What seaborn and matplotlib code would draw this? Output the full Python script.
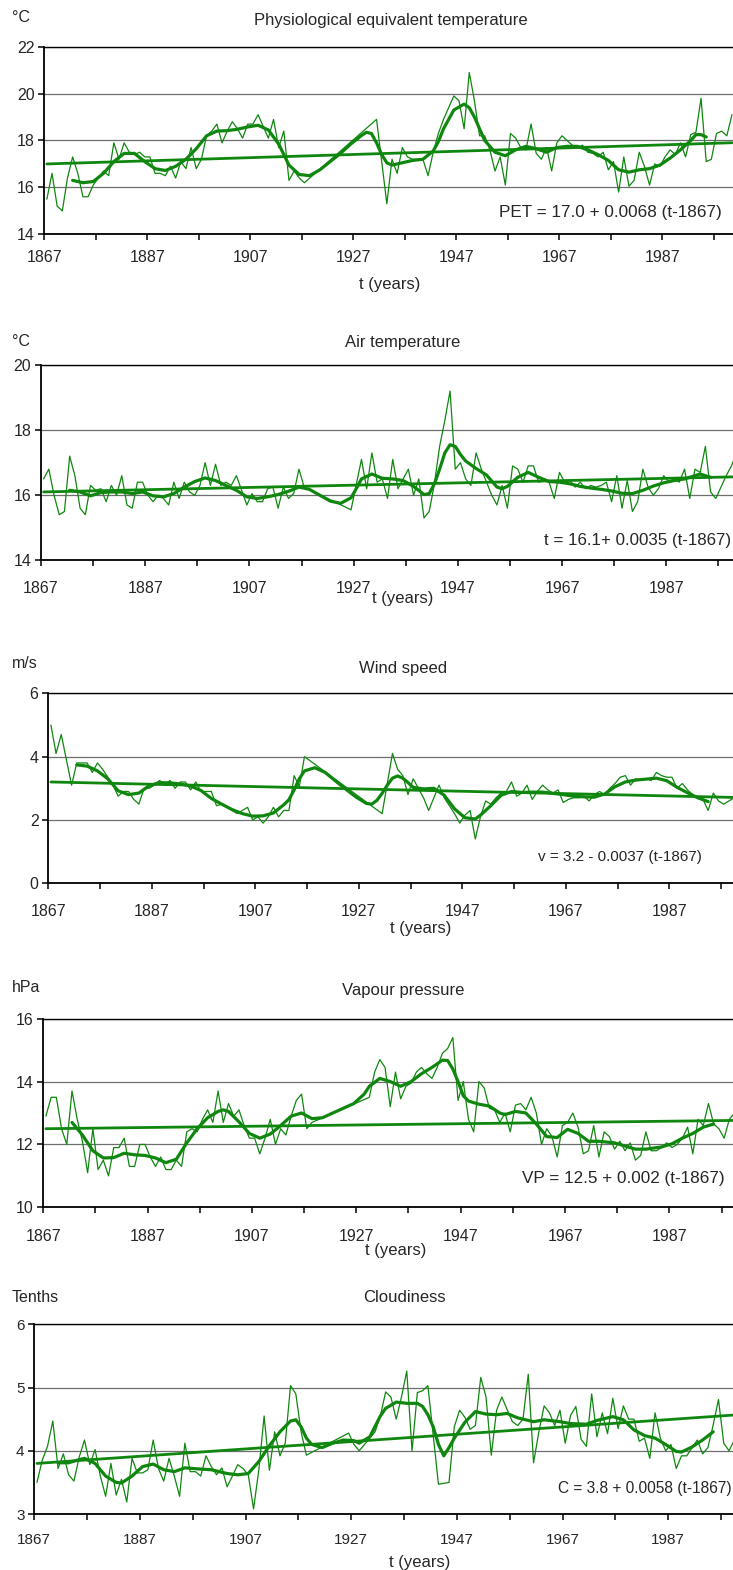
import numpy as np
import pandas as pd
import seaborn as sns
import matplotlib.pyplot as plt

# ---- annual values, one per year from 1867 (None = no data, line is joined across) ----
first_year = 1867

pet_vals = [15.5, 16.6, 15.2, 15.0, 16.4, 17.3, 16.6, 15.6, 15.6, 16.1,
            16.4, 16.7, 16.5, 17.9, 17.2, 17.9, 17.5, 17.4, 17.5, 17.3,
            17.3, 16.6, 16.6, 16.5, 16.9, 16.4, 17.1, 16.8, 17.7, 16.8,
            17.2, 18.2, 18.4, 18.7, 17.9, 18.4, 18.8, 18.5, 18.1, 18.7,
            18.7, 19.1, 18.6, 18.1, 18.9, 17.7, 18.4, 16.3, 16.7, 16.4,
            16.2, None, None, None, None, None, None, None, None, None,
            None, None, None, None, 18.9, None, 15.3, 17.2, 16.6, 17.7,
            17.3, 17.2, 17.2, 17.2, 16.5, 17.5, 18.3, 18.9, 19.4, 19.9,
            19.7, 18.5, 20.9, 19.7, 18.2, 18.2, 17.6, 16.7, 17.3, 16.1,
            18.3, 18.1, 17.7, 17.6, 18.7, 17.45, 17.2, 17.7, 16.7, 17.9,
            18.2, 18.0, 17.8, 17.7, 17.8, 17.5, 17.45, 17.3, 17.5, 16.75,
            17.1, 15.8, 17.3, 16.05, 16.3, 17.5, 16.9, 16.1, 17.0, 16.9,
            17.3, 17.6, 17.4, 17.9, 17.3, 18.25, 18.35, 19.8, 17.1, 17.2,
            18.3, 18.4, 18.2, 19.1]

air_vals = [16.5, 16.8, 16.0, 15.4, 15.5, 17.2, 16.6, 15.6, 15.4, 16.3,
            16.15, 16.2, 15.8, 16.3, 16.0, 16.6, 15.7, 15.6, 16.4, 16.4,
            16.0, 15.8, 16.0, 15.9, 15.7, 16.4, 15.9, 16.4, 16.1, 16.0,
            16.3, 17.0, 16.3, 16.95, 16.3, 16.4, 16.3, 16.6, 16.15, 15.7,
            16.05, 15.8, 15.8, 16.2, 16.25, 15.6, 16.25, 15.9, 16.05, 16.8,
            16.25, None, None, None, None, None, None, None, None, 15.55,
            None, 17.1, 16.2, 17.3, 16.4, 16.5, 15.9, 17.1, 16.2, 16.5,
            16.8, 16.0, 16.5, 15.3, 15.5, 16.35, 17.5, 18.3, 19.2, 16.8,
            17.0, 16.5, 16.3, 17.3, 16.8, 16.4, 16.0, 15.7, 16.3, 15.6,
            16.9, 16.8, 16.4, 16.9, 16.9, 16.4, 16.45, 16.4, 15.9, 16.7,
            16.4, 16.45, 16.25, 16.4, 16.2, 16.3, 16.25, 16.3, 16.4, 15.8,
            16.6, 15.6, 16.45, 15.5, 15.8, 16.8, 16.25, 16.0, 16.2, 16.6,
            16.4, 16.5, 16.4, 16.8, 15.9, 16.8, 16.7, 17.5, 16.1, 15.9,
            16.25, 16.6, 16.9, 17.3]

wind_vals = [5.0, 4.1, 4.7, 3.9, 3.1, 3.8, 3.8, 3.8, 3.5, 3.8,
             3.6, 3.35, 3.1, 2.75, 2.9, 2.9, 2.65, 2.5, 3.0, 3.0,
             3.1, 3.25, 3.1, 3.25, 3.0, 3.2, 3.2, 2.95, 3.2, 2.9,
             2.9, 2.9, 2.45, 2.5, 2.4, 2.3, 2.2, 2.3, 2.4, 2.0,
             2.1, 1.9, 2.1, 2.4, 2.1, 2.3, 2.3, 3.4, 3.05, 4.0,
             None, None, None, None, None, None, None, None, None, None,
             None, None, None, None, 2.2, None, 4.1, 3.6, 3.4, 2.8,
             3.3, 3.0, 2.7, 2.3, 2.7, 3.1, 2.7, 2.45, 2.2, 1.9,
             2.15, 2.3, 1.4, 2.1, 2.6, 2.5, 2.7, 2.85, 2.9, 3.2,
             2.75, 2.85, 3.1, 2.65, 2.9, 3.1, 2.95, 2.85, 2.95, 2.55,
             2.65, 2.7, 2.7, 2.75, 2.6, 2.8, 2.9, 2.8, 3.0, 3.15,
             3.35, 3.4, 3.1, 3.3, 3.25, 3.3, 3.25, 3.5, 3.4, 3.35,
             3.35, 3.0, 3.15, 2.95, 2.8, 2.7, 2.65, 2.3, 2.85, 2.6,
             2.5, 2.6, 2.7, 2.6]

vp_vals = [12.9, 13.5, 13.5, 12.5, 12.0, 13.7, 12.8, 12.1, 11.1, 12.5,
           11.2, 11.5, 11.0, 11.9, 11.9, 12.2, 11.3, 11.3, 12.0, 12.0,
           11.6, 11.3, 11.6, 11.2, 11.2, 11.5, 11.3, 12.4, 12.5, 12.4,
           12.8, 13.1, 12.7, 13.7, 12.7, 13.3, 12.9, 13.1, 12.6, 12.2,
           12.2, 11.7, 12.2, 12.8, 12.0, 12.5, 12.3, 12.9, 13.4, 13.6,
           12.5, 12.7, None, None, None, None, None, None, None, None,
           None, None, 13.5, 14.3, 14.7, 14.45, 13.2, 14.3, 13.45, 13.85,
           13.95, 14.3, 14.45, 14.25, 14.1, 14.45, 14.9, 15.05, 15.4, 13.4,
           14.0, 12.8, 12.4, 14.0, 13.8, 13.15, 13.1, 12.7, 13.0, 12.4,
           13.25, 13.3, 13.1, 13.5, 13.0, 12.0, 12.5, 12.25, 11.6, 12.6,
           12.7, 13.0, 12.55, 11.7, 11.8, 12.6, 11.6, 12.4, 12.25, 11.85,
           12.1, 11.8, 12.05, 11.5, 11.65, 12.4, 11.8, 11.8, 11.9, 12.05,
           11.9, 12.0, 12.2, 12.55, 11.7, 12.8, 12.6, 13.3, 12.65, 12.5,
           12.2, 12.8, 13.0]

cloud_vals = [3.5, 3.85, 4.07, 4.47, 3.72, 3.95, 3.62, 3.52, 3.9, 4.17,
              3.78, 4.02, 3.6, 3.28, 3.8, 3.3, 3.55, 3.19, 3.88, 3.65,
              3.65, 3.7, 4.17, 3.72, 3.52, 3.88, 3.6, 3.28, 4.12, 3.67,
              3.67, 3.6, 3.92, 3.75, 3.62, 3.73, 3.43, 3.6, 3.78, 3.72,
              3.62, 3.08, 3.7, 4.55, 3.69, 4.3, 3.92, 4.12, 5.03, 4.9,
              4.3, 3.93, None, None, None, None, None, None, None, 4.28,
              4.1, 4.0, 4.1, 4.2, 4.3, 4.55, 4.93, 4.85, 4.5, 4.85,
              5.26, 4.0, 4.92, 4.95, 5.03, None, 3.47, None, 3.5, 4.38,
              4.64, 4.53, 4.34, 4.4, 5.16, 4.85, 3.93, 4.64, 4.85, 4.65,
              4.46, 4.4, 4.5, 5.21, 3.81, 4.3, 4.71, 4.6, 4.4, 4.64,
              4.12, 4.56, 4.7, 4.18, 4.07, 4.9, 4.22, 4.6, 4.27, 4.83,
              4.35, 4.71, 4.5, 4.5, 4.15, 4.2, 3.88, 4.6, 4.2, 4.0,
              4.1, 3.72, 3.92, 3.92, 4.05, 4.17, 3.95, 4.05, 4.41, 4.81,
              4.12, 4.0, 4.17]

# ---- smoothed curves ----
pet_sm_years = [1872, 1874, 1876, 1878, 1880, 1882, 1884, 1886, 1888, 1890, 1892, 1894,
                1896, 1898, 1900, 1902, 1904, 1906, 1908, 1910, 1912, 1914, 1916, 1918,
                1920, 1922, 1924, 1926, 1928, 1929, 1930, 1931, 1932, 1933, 1934, 1936,
                1938, 1940, 1942, 1943, 1944, 1946, 1948, 1949, 1950, 1952, 1954, 1956,
                1958, 1960, 1962, 1964, 1966, 1968, 1970, 1972, 1974, 1976, 1978, 1980,
                1982, 1984, 1986, 1988, 1990, 1992, 1993, 1994, 1995]
pet_sm_vals = [16.3, 16.2, 16.25, 16.6, 17.1, 17.45, 17.45, 17.1, 16.8, 16.72, 16.9, 17.2,
               17.65, 18.2, 18.4, 18.42, 18.48, 18.58, 18.65, 18.45, 17.85, 16.95, 16.55, 16.5,
               16.75, 17.1, 17.45, 17.85, 18.2, 18.35, 18.3, 17.9, 17.4, 17.05, 16.95, 17.05,
               17.15, 17.2, 17.55, 17.95, 18.5, 19.3, 19.55, 19.4, 19.0, 18.0, 17.5, 17.35,
               17.6, 17.75, 17.65, 17.5, 17.7, 17.75, 17.75, 17.6, 17.4, 17.15, 16.75, 16.65,
               16.75, 16.8, 16.95, 17.25, 17.6, 18.0, 18.25, 18.25, 18.15]

air_sm_years = [1872, 1874, 1876, 1878, 1880, 1882, 1884, 1886, 1888, 1890, 1892, 1894,
                1896, 1898, 1900, 1902, 1904, 1906, 1908, 1910, 1912, 1914, 1916, 1918,
                1920, 1922, 1924, 1926, 1927, 1928, 1930, 1932, 1934, 1936, 1938, 1940,
                1941, 1942, 1943, 1944, 1945, 1946, 1947, 1948, 1950, 1952, 1954, 1955,
                1956, 1958, 1960, 1962, 1964, 1966, 1968, 1970, 1972, 1974, 1976, 1978,
                1980, 1982, 1984, 1986, 1988, 1990, 1992, 1993, 1995]
air_sm_vals = [16.15, 16.1, 15.98, 16.08, 16.1, 16.1, 16.05, 16.1, 15.98, 15.95, 16.05, 16.25,
               16.42, 16.53, 16.45, 16.3, 16.15, 15.95, 15.9, 15.95, 16.02, 16.12, 16.25, 16.18,
               16.0, 15.82, 15.75, 15.92, 16.2, 16.5, 16.65, 16.52, 16.5, 16.45, 16.27, 16.02,
               16.05, 16.35, 16.8, 17.3, 17.55, 17.5, 17.25, 17.05, 16.82, 16.62, 16.25, 16.2,
               16.27, 16.55, 16.7, 16.55, 16.42, 16.4, 16.35, 16.27, 16.22, 16.18, 16.13, 16.06,
               16.05, 16.15, 16.28, 16.38, 16.45, 16.5, 16.6, 16.65, 16.55]

wind_sm_years = [1872, 1874, 1876, 1878, 1880, 1882, 1884, 1886, 1888, 1890, 1892, 1894,
                 1896, 1898, 1900, 1902, 1904, 1906, 1908, 1910, 1912, 1913, 1914, 1915,
                 1916, 1918, 1920, 1922, 1924, 1926, 1928, 1929, 1930, 1931, 1932, 1933,
                 1934, 1935, 1936, 1937, 1939, 1941, 1943, 1945, 1947, 1949, 1950, 1952,
                 1954, 1956, 1958, 1960, 1962, 1964, 1966, 1968, 1970, 1972, 1974, 1976,
                 1978, 1980, 1982, 1984, 1986, 1988, 1990, 1992, 1994]
wind_sm_vals = [3.74, 3.7, 3.55, 3.3, 2.92, 2.8, 2.85, 3.08, 3.18, 3.17, 3.14, 3.07,
                2.93, 2.68, 2.5, 2.33, 2.2, 2.12, 2.13, 2.22, 2.48, 2.64, 2.95, 3.3,
                3.55, 3.65, 3.5, 3.23, 2.97, 2.72, 2.52, 2.5, 2.62, 2.84, 3.1, 3.32,
                3.39, 3.32, 3.18, 3.03, 2.98, 3.0, 2.78, 2.35, 2.07, 2.03, 2.15, 2.45,
                2.78, 2.9, 2.87, 2.88, 2.88, 2.84, 2.8, 2.75, 2.73, 2.72, 2.82, 3.05,
                3.2, 3.26, 3.29, 3.32, 3.24, 3.03, 2.86, 2.7, 2.58]

vp_sm_years = [1872, 1874, 1876, 1878, 1880, 1882, 1884, 1886, 1888, 1890, 1892, 1894,
               1896, 1898, 1900, 1901, 1902, 1904, 1906, 1908, 1910, 1912, 1914, 1916,
               1918, 1920, 1922, 1924, 1926, 1928, 1929, 1931, 1933, 1935, 1937, 1939,
               1941, 1943, 1944, 1945, 1946, 1947, 1948, 1950, 1952, 1954, 1955, 1957,
               1959, 1961, 1963, 1965, 1967, 1969, 1971, 1973, 1976, 1978, 1980, 1982,
               1985, 1987, 1989, 1991, 1993, 1995]
vp_sm_vals = [12.7, 12.3, 11.8, 11.57, 11.58, 11.72, 11.67, 11.65, 11.57, 11.42, 11.53, 12.05,
              12.5, 12.85, 13.05, 13.1, 13.05, 12.72, 12.35, 12.2, 12.33, 12.6, 12.9, 13.0,
              12.82, 12.85, 13.0, 13.15, 13.3, 13.6, 13.85, 14.1, 14.0, 13.85, 14.0, 14.25,
              14.45, 14.68, 14.67, 14.4, 14.0, 13.55, 13.38, 13.28, 13.22, 13.0, 12.95, 13.05,
              13.0, 12.65, 12.25, 12.22, 12.48, 12.35, 12.1, 12.1, 12.05, 11.95, 11.85, 11.85,
              11.92, 12.02, 12.2, 12.35, 12.55, 12.65]

cloud_sm_years = [1871, 1873, 1875, 1876, 1878, 1880, 1882, 1883, 1885, 1887, 1889, 1891,
                  1893, 1895, 1898, 1900, 1903, 1905, 1907, 1909, 1911, 1913, 1915, 1916,
                  1917, 1918, 1919, 1921, 1923, 1925, 1927, 1928, 1930, 1932, 1933, 1935,
                  1937, 1939, 1940, 1941, 1942, 1943, 1944, 1945, 1946, 1948, 1950, 1952,
                  1954, 1956, 1958, 1961, 1963, 1966, 1968, 1971, 1973, 1976, 1978, 1980,
                  1982, 1984, 1986, 1988, 1989, 1991, 1993, 1995]
cloud_sm_vals = [3.81, 3.81, 3.86, 3.88, 3.8, 3.6, 3.5, 3.49, 3.6, 3.75, 3.79, 3.7,
                 3.67, 3.73, 3.71, 3.7, 3.64, 3.62, 3.64, 3.83, 4.08, 4.3, 4.47, 4.49,
                 4.38, 4.2, 4.1, 4.05, 4.12, 4.17, 4.16, 4.12, 4.22, 4.55, 4.67, 4.77,
                 4.75, 4.75, 4.7, 4.57, 4.38, 4.1, 3.92, 4.05, 4.2, 4.45, 4.62, 4.58,
                 4.57, 4.59, 4.52, 4.46, 4.49, 4.46, 4.43, 4.42, 4.48, 4.54, 4.49, 4.33,
                 4.24, 4.2, 4.1, 3.99, 3.98, 4.06, 4.17, 4.3]

# ---- linear trends as printed on the chart: value = a + b (t-1867) ----
trend_a = [17.0, 16.1, 3.2, 12.5, 3.8]
trend_b = [0.0068, 0.0035, -0.0037, 0.002, 0.0058]

titles = ["Physiological equivalent temperature", "Air temperature", "Wind speed",
          "Vapour pressure", "Cloudiness"]
units = ["°C", "°C", "m/s", "hPa", "Tenths"]
equations = ["PET = 17.0 + 0.0068 (t-1867)", "t = 16.1+ 0.0035 (t-1867)",
             "v = 3.2 - 0.0037 (t-1867)", "VP = 12.5 + 0.002 (t-1867)",
             "C = 3.8 + 0.0058 (t-1867)"]
y_ranges = [(14, 22), (14, 20), (0, 6), (10, 16), (3, 6)]
y_steps = [2, 2, 2, 2, 1]

# ---- drawing ----
sns.set_style("ticks")
plt.rcParams['font.family'] = ['Liberation Sans', 'DejaVu Sans']

W, H = 733, 1570
fig = plt.figure(figsize=(W / 100, H / 100), dpi=100)
GREEN = '#0f870f'

# plot area in pixels: left, top, bottom, right end of the time axis, label offsets
layout = [
    dict(left=44.3, top=46.7, bottom=234.3, xmax=2000.7, unit_y=17, title=(391, 20),
         xlab=(390, 285), eq=(722, 212), pad=7, fs_tick=11.5),
    dict(left=41, top=365, bottom=560.3, xmax=1999.8, unit_y=341, title=(403, 343),
         xlab=(403, 599), eq=(731, 541), pad=11, fs_tick=11.5),
    dict(left=48.3, top=693.3, bottom=883.3, xmax=1999.3, unit_y=664, title=(403, 668),
         xlab=(421, 928), eq=(702, 857), pad=11, fs_tick=11.5),
    dict(left=43.3, top=1018.7, bottom=1207.3, xmax=1999.2, unit_y=988, title=(403, 991),
         xlab=(396, 1250), eq=(725, 1179), pad=11.5, fs_tick=11.5),
    dict(left=34.3, top=1324.3, bottom=1514, xmax=1999.25, unit_y=1297, title=(404, 1298),
         xlab=(420, 1562), eq=(732, 1488), pad=10, fs_tick=11),
]
eq_sizes = [12.3, 12.2, 11, 12.3, 11.2]
series = [
    (pet_vals, pet_sm_years, pet_sm_vals),
    (air_vals, air_sm_years, air_sm_vals),
    (wind_vals, wind_sm_years, wind_sm_vals),
    (vp_vals, vp_sm_years, vp_sm_vals),
    (cloud_vals, cloud_sm_years, cloud_sm_vals),
]


def fx(px):
    return px / W


def fy(py):
    return 1 - py / H


for i, (lay, (vals, sm_years, sm_vals)) in enumerate(zip(layout, series)):
    ax = fig.add_axes([fx(lay['left']), fy(lay['bottom']),
                       1 - fx(lay['left']), (lay['bottom'] - lay['top']) / H])

    annual = pd.DataFrame({'year': np.arange(first_year, first_year + len(vals)),
                           'value': pd.array(vals, dtype='Float64')}).dropna()
    annual['value'] = annual['value'].astype(float)
    annual['x'] = annual['year'] + 0.5          # points sit at the centre of each year
    smooth = pd.DataFrame({'x': np.array(sm_years) + 0.5, 'value': sm_vals})
    trend = annual[['x', 'year']].copy()
    trend['value'] = trend_a[i] + trend_b[i] * (trend['year'] - first_year)

    sns.lineplot(data=annual, x='x', y='value', ax=ax, color=GREEN, lw=0.9,
                 estimator=None, sort=False)
    sns.lineplot(data=trend, x='x', y='value', ax=ax, color=GREEN, lw=2.0,
                 estimator=None, sort=False)
    sns.lineplot(data=smooth, x='x', y='value', ax=ax, color=GREEN, lw=2.3,
                 estimator=None, sort=False)

    lo, hi = y_ranges[i]
    ax.set_ylim(lo, hi)
    ax.set_xlim(1867, lay['xmax'])
    ax.set_yticks(np.arange(lo, hi + 0.01, y_steps[i]))
    ax.set_xticks(np.arange(1867, 1990, 20))
    ax.set_xticks(np.arange(1877, 2000, 20), minor=True)
    ax.set_xlabel('')
    ax.set_ylabel('')

    ax.yaxis.grid(True, color='#6e6e6e', lw=0.9)
    ax.set_axisbelow(True)
    for s in ['left', 'bottom']:
        ax.spines[s].set_color('black')
        ax.spines[s].set_linewidth(1.3)
    ax.spines['top'].set_visible(True)
    ax.spines['top'].set_color('black')
    ax.spines['top'].set_linewidth(1.0)
    ax.spines['right'].set_visible(False)

    ax.tick_params(axis='x', which='both', direction='out', length=4, width=1.1,
                   color='black', pad=lay['pad'], labelsize=lay['fs_tick'])
    ax.tick_params(axis='y', direction='out', length=4, width=1.1, color='black',
                   pad=3, labelsize=lay['fs_tick'])

    fig.text(fx(12), fy(lay['unit_y']), units[i], fontsize=11.5, ha='left', va='center')
    fig.text(fx(lay['title'][0]), fy(lay['title'][1]), titles[i], fontsize=12,
             ha='center', va='center')
    fig.text(fx(lay['xlab'][0]), fy(lay['xlab'][1]), 't (years)', fontsize=12,
             ha='center', va='center')
    fig.text(fx(lay['eq'][0]), fy(lay['eq'][1]), equations[i], fontsize=eq_sizes[i],
             ha='right', va='center')

fig.savefig('out.png', dpi=100, facecolor='white')
